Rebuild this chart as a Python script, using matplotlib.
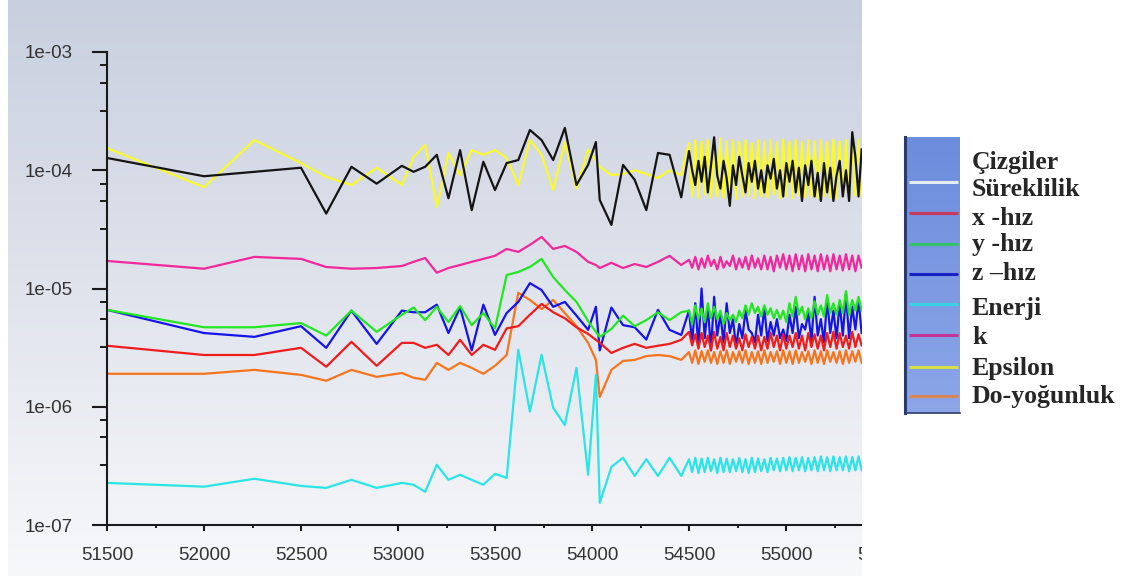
import numpy as np
import matplotlib.pyplot as plt
from matplotlib.patches import Rectangle
from matplotlib.ticker import FixedLocator, NullFormatter

W, H = 1130, 581

# iterasyon ekseni: seyrek baslangic, orta bolge, yogun salinim bolgesi
x_early = [51500, 52000, 52260, 52500, 52630, 52760, 52890, 53020]
x_mid = [53080, 53140, 53200, 53260, 53320, 53380, 53440, 53500, 53560, 53620,
         53680, 53740, 53800, 53860, 53920, 53980, 54020, 54040, 54100, 54160,
         54220, 54280, 54340, 54400, 54460]
x_dense = np.linspace(54500, 55390, 56)

# Süreklilik (siyah)
cont_early = [1.27e-4, 8.9e-5, 9.7e-5, 1.05e-4, 4.3e-5, 1.07e-4, 7.7e-5, 1.09e-4]
cont_mid = [9.7e-5, 1.07e-4, 1.35e-4, 5.8e-5, 1.48e-4, 4.6e-5, 1.18e-4, 6.8e-5,
            1.15e-4, 1.22e-4, 2.19e-4, 1.8e-4, 1.22e-4, 2.28e-4, 7.5e-5, 1.11e-4,
            1.73e-4, 5.6e-5, 3.45e-5, 1.11e-4, 8.3e-5, 4.6e-5, 1.4e-4, 1.35e-4, 5.9e-5]
cont_dense = [1.45e-4, 1.0e-4, 7.5e-5, 1.2e-4, 8.0e-5, 1.3e-4, 6.5e-5, 1.1e-4,
              1.9e-4, 9.0e-5, 7.0e-5, 1.2e-4, 8.5e-5, 5.0e-5, 1.1e-4, 7.5e-5,
              1.3e-4, 9.0e-5, 6.5e-5, 1.15e-4, 8.0e-5, 1.2e-4, 7.0e-5, 1.0e-4,
              6.5e-5, 1.1e-4, 8.5e-5, 1.25e-4, 7.0e-5, 1.0e-4, 6.0e-5, 1.15e-4,
              8.0e-5, 1.2e-4, 6.5e-5, 1.05e-4, 5.5e-5, 1.1e-4, 7.5e-5, 1.2e-4,
              6.0e-5, 9.5e-5, 5.5e-5, 1.15e-4, 6.5e-5, 1.05e-4, 5.5e-5, 9.0e-5,
              1.2e-4, 6.0e-5, 1.0e-4, 5.5e-5, 2.1e-4, 1.3e-4, 6.0e-5, 1.5e-4]

# x-hız (kırmızı)
xvel_early = [3.28e-6, 2.74e-6, 2.74e-6, 3.15e-6, 2.18e-6, 3.54e-6, 2.22e-6, 3.47e-6]
xvel_mid = [3.47e-6, 3.15e-6, 3.34e-6, 2.74e-6, 3.68e-6, 2.74e-6, 3.34e-6, 3.03e-6,
            4.6e-6, 4.8e-6, 6.0e-6, 7.4e-6, 6.3e-6, 5.6e-6, 4.7e-6, 4.13e-6,
            3.68e-6, 3.47e-6, 2.85e-6, 3.15e-6, 3.4e-6, 3.15e-6, 3.28e-6, 3.4e-6, 3.68e-6]
xvel_dense = [4.3e-6, 3.3e-6, 4.1e-6, 3.1e-6, 4.2e-6, 3.2e-6, 4.0e-6, 3.0e-6,
              4.3e-6, 3.1e-6, 3.9e-6, 3.0e-6, 4.2e-6, 3.2e-6, 4.0e-6, 3.1e-6,
              3.8e-6, 3.0e-6, 4.1e-6, 3.2e-6, 3.9e-6, 3.1e-6, 4.0e-6, 3.0e-6,
              3.9e-6, 3.1e-6, 4.2e-6, 3.2e-6, 4.0e-6, 3.0e-6, 4.1e-6, 3.1e-6,
              4.0e-6, 3.2e-6, 4.2e-6, 3.1e-6, 4.0e-6, 3.0e-6, 4.2e-6, 3.2e-6,
              4.1e-6, 3.1e-6, 4.0e-6, 3.0e-6, 4.2e-6, 3.2e-6, 4.3e-6, 3.1e-6,
              4.2e-6, 3.2e-6, 4.0e-6, 3.1e-6, 4.3e-6, 3.2e-6, 4.1e-6, 3.3e-6]

# y-hız (yeşil)
yvel_early = [6.6e-6, 4.7e-6, 4.7e-6, 5.1e-6, 4.0e-6, 6.5e-6, 4.3e-6, 6.0e-6]
yvel_mid = [6.9e-6, 5.4e-6, 7.0e-6, 5.2e-6, 7.1e-6, 4.9e-6, 6.2e-6, 4.6e-6,
            1.30e-5, 1.38e-5, 1.52e-5, 1.78e-5, 1.25e-5, 9.7e-6, 7.7e-6, 5.3e-6,
            4.3e-6, 3.9e-6, 4.55e-6, 5.9e-6, 4.8e-6, 5.4e-6, 6.3e-6, 5.4e-6, 6.3e-6]
yvel_dense = [6.5e-6, 5.0e-6, 7.2e-6, 5.5e-6, 6.8e-6, 5.2e-6, 7.5e-6, 5.6e-6,
              7.0e-6, 5.5e-6, 6.5e-6, 5.0e-6, 6.2e-6, 5.4e-6, 6.0e-6, 5.2e-6,
              6.5e-6, 5.6e-6, 7.2e-6, 6.0e-6, 7.5e-6, 6.2e-6, 7.0e-6, 5.8e-6,
              7.2e-6, 6.0e-6, 6.8e-6, 5.6e-6, 6.6e-6, 5.5e-6, 6.5e-6, 5.2e-6,
              7.5e-6, 5.8e-6, 8.5e-6, 6.0e-6, 7.0e-6, 5.5e-6, 6.8e-6, 5.6e-6,
              7.8e-6, 6.0e-6, 7.2e-6, 5.8e-6, 8.8e-6, 6.2e-6, 7.5e-6, 6.0e-6,
              8.0e-6, 6.2e-6, 9.5e-6, 6.0e-6, 8.0e-6, 6.5e-6, 8.5e-6, 6.5e-6]

# z-hız (mavi)
zvel_early = [6.6e-6, 4.2e-6, 3.9e-6, 4.8e-6, 3.15e-6, 6.5e-6, 3.4e-6, 6.5e-6]
zvel_mid = [6.3e-6, 6.3e-6, 7.3e-6, 4.2e-6, 6.9e-6, 3.0e-6, 7.3e-6, 4.05e-6,
            6.2e-6, 7.7e-6, 1.11e-5, 9.7e-6, 7.0e-6, 7.7e-6, 5.9e-6, 4.47e-6,
            7.0e-6, 3.0e-6, 6.9e-6, 4.9e-6, 4.7e-6, 3.7e-6, 6.6e-6, 4.47e-6, 4.05e-6]
zvel_dense = [6.5e-6, 3.5e-6, 7.5e-6, 3.2e-6, 1.0e-5, 3.8e-6, 7.0e-6, 3.0e-6,
              8.5e-6, 4.0e-6, 6.0e-6, 3.5e-6, 7.5e-6, 4.2e-6, 5.5e-6, 3.2e-6,
              5.0e-6, 3.8e-6, 6.5e-6, 4.5e-6, 4.2e-6, 3.5e-6, 6.0e-6, 4.0e-6,
              6.8e-6, 3.6e-6, 5.2e-6, 4.0e-6, 5.5e-6, 3.8e-6, 4.5e-6, 3.6e-6,
              6.0e-6, 4.2e-6, 7.0e-6, 3.8e-6, 5.0e-6, 4.5e-6, 6.2e-6, 3.6e-6,
              8.5e-6, 4.0e-6, 5.5e-6, 3.5e-6, 8.0e-6, 4.2e-6, 6.5e-6, 3.8e-6,
              7.5e-6, 4.0e-6, 9.0e-6, 3.8e-6, 7.0e-6, 4.5e-6, 8.0e-6, 4.2e-6]

# Enerji (camgöbeği)
energy_early = [2.27e-7, 2.11e-7, 2.46e-7, 2.14e-7, 2.06e-7, 2.41e-7, 2.06e-7, 2.27e-7]
energy_mid = [2.19e-7, 1.91e-7, 3.23e-7, 2.41e-7, 2.66e-7, 2.41e-7, 2.19e-7, 2.71e-7,
              2.5e-7, 3.03e-6, 9.1e-7, 2.75e-6, 9.8e-7, 7.0e-7, 2.13e-6, 2.66e-7,
              1.86e-6, 1.54e-7, 3.1e-7, 3.7e-7, 2.6e-7, 3.6e-7, 2.6e-7, 3.7e-7, 2.6e-7]
energy_dense = [3.6e-7, 2.8e-7, 3.7e-7, 2.75e-7, 3.65e-7, 2.8e-7, 3.7e-7, 2.85e-7,
                3.6e-7, 2.75e-7, 3.7e-7, 2.8e-7, 3.65e-7, 2.8e-7, 3.6e-7, 2.85e-7,
                3.7e-7, 2.8e-7, 3.6e-7, 2.75e-7, 3.7e-7, 2.8e-7, 3.65e-7, 2.85e-7,
                3.6e-7, 2.8e-7, 3.7e-7, 2.9e-7, 3.65e-7, 2.85e-7, 3.7e-7, 2.9e-7,
                3.75e-7, 2.85e-7, 3.7e-7, 2.9e-7, 3.75e-7, 2.85e-7, 3.7e-7, 2.9e-7,
                3.75e-7, 2.85e-7, 3.8e-7, 2.9e-7, 3.75e-7, 2.85e-7, 3.8e-7, 2.9e-7,
                3.75e-7, 2.9e-7, 3.8e-7, 2.85e-7, 3.75e-7, 2.9e-7, 3.8e-7, 2.9e-7]

# k (pembe)
k_early = [1.71e-5, 1.47e-5, 1.85e-5, 1.78e-5, 1.52e-5, 1.47e-5, 1.49e-5, 1.55e-5]
k_mid = [1.68e-5, 1.81e-5, 1.36e-5, 1.49e-5, 1.58e-5, 1.68e-5, 1.78e-5, 1.89e-5,
         2.16e-5, 2.04e-5, 2.34e-5, 2.73e-5, 2.16e-5, 2.29e-5, 2.04e-5, 1.68e-5,
         1.58e-5, 1.49e-5, 1.65e-5, 1.49e-5, 1.61e-5, 1.52e-5, 1.68e-5, 1.89e-5, 1.58e-5]
k_dense = [1.75e-5, 1.5e-5, 1.85e-5, 1.45e-5, 1.8e-5, 1.5e-5, 1.9e-5, 1.55e-5,
           1.75e-5, 1.45e-5, 1.85e-5, 1.5e-5, 1.7e-5, 1.55e-5, 1.9e-5, 1.45e-5,
           1.8e-5, 1.5e-5, 1.85e-5, 1.45e-5, 1.9e-5, 1.5e-5, 1.8e-5, 1.45e-5,
           1.9e-5, 1.45e-5, 1.85e-5, 1.4e-5, 1.9e-5, 1.5e-5, 1.95e-5, 1.45e-5,
           1.9e-5, 1.4e-5, 1.95e-5, 1.45e-5, 1.9e-5, 1.4e-5, 1.95e-5, 1.45e-5,
           1.9e-5, 1.4e-5, 1.95e-5, 1.45e-5, 1.9e-5, 1.4e-5, 1.95e-5, 1.45e-5,
           1.9e-5, 1.42e-5, 1.95e-5, 1.45e-5, 1.9e-5, 1.4e-5, 1.9e-5, 1.5e-5]

# Epsilon (sarı)
eps_early = [1.54e-4, 7.2e-5, 1.8e-4, 1.15e-4, 8.8e-5, 7.5e-5, 1.05e-4, 7.5e-5]
eps_mid = [1.29e-4, 1.64e-4, 4.9e-5, 1.4e-4, 9.1e-5, 1.48e-4, 1.35e-4, 1.48e-4,
           1.27e-4, 7.5e-5, 1.8e-4, 1.35e-4, 6.8e-5, 1.73e-4, 7.0e-5, 1.5e-4,
           1.2e-4, 1.07e-4, 9.1e-5, 9.3e-5, 1.0e-4, 9.3e-5, 8.6e-5, 1.0e-4, 9.1e-5]
eps_dense = [1.7e-4, 6.0e-5, 1.8e-4, 5.8e-5, 1.75e-4, 6.2e-5, 1.8e-4, 5.9e-5,
             1.7e-4, 6.0e-5, 1.85e-4, 5.8e-5, 1.75e-4, 6.3e-5, 1.8e-4, 5.7e-5,
             1.75e-4, 6.0e-5, 1.8e-4, 6.1e-5, 1.7e-4, 5.8e-5, 1.8e-4, 6.0e-5,
             1.75e-4, 5.9e-5, 1.8e-4, 6.2e-5, 1.72e-4, 5.8e-5, 1.82e-4, 6.0e-5,
             1.75e-4, 5.8e-5, 1.8e-4, 6.1e-5, 1.74e-4, 5.9e-5, 1.8e-4, 6.0e-5,
             1.76e-4, 5.8e-5, 1.8e-4, 6.0e-5, 1.73e-4, 5.9e-5, 1.82e-4, 5.8e-5,
             1.75e-4, 6.0e-5, 1.8e-4, 5.9e-5, 1.74e-4, 6.1e-5, 1.8e-4, 6.0e-5]

# Do-yoğunluk (turuncu)
do_early = [1.9e-6, 1.9e-6, 2.05e-6, 1.86e-6, 1.66e-6, 2.05e-6, 1.79e-6, 1.93e-6]
do_mid = [1.76e-6, 1.69e-6, 2.35e-6, 2.05e-6, 2.35e-6, 2.13e-6, 1.9e-6, 2.22e-6,
          2.74e-6, 9.2e-6, 8.0e-6, 6.7e-6, 8.0e-6, 6.2e-6, 4.8e-6, 3.47e-6,
          2.49e-6, 1.21e-6, 2.05e-6, 2.44e-6, 2.49e-6, 2.68e-6, 2.74e-6, 2.68e-6, 2.49e-6]
do_dense = [2.9e-6, 2.35e-6, 3.0e-6, 2.3e-6, 2.95e-6, 2.4e-6, 3.0e-6, 2.35e-6,
            2.9e-6, 2.3e-6, 2.95e-6, 2.35e-6, 3.0e-6, 2.3e-6, 2.9e-6, 2.4e-6,
            2.95e-6, 2.35e-6, 3.0e-6, 2.3e-6, 2.9e-6, 2.35e-6, 2.95e-6, 2.3e-6,
            3.0e-6, 2.35e-6, 2.9e-6, 2.4e-6, 2.95e-6, 2.3e-6, 3.0e-6, 2.35e-6,
            2.95e-6, 2.3e-6, 3.0e-6, 2.35e-6, 2.9e-6, 2.4e-6, 2.95e-6, 2.3e-6,
            3.0e-6, 2.35e-6, 2.95e-6, 2.3e-6, 3.0e-6, 2.4e-6, 2.9e-6, 2.35e-6,
            2.95e-6, 2.3e-6, 3.0e-6, 2.35e-6, 2.95e-6, 2.4e-6, 3.0e-6, 2.35e-6]

x_ticks = [51500, 52000, 52500, 53000, 53500, 54000, 54500, 55000, 55500]
x_tick_labels = ['51500', '52000', '52500', '53000', '53500', '54000', '54500', '55000', '55500']
y_ticks = [1e-7, 1e-6, 1e-5, 1e-4, 1e-3]
y_tick_labels = ['1e-07', '1e-06', '1e-05', '1e-04', '1e-03']
minor_factors = [0.77, 0.55, 0.32]

legend_labels = ['Çizgiler', 'Süreklilik', 'x -hız', 'y -hız', 'z –hız',
                 'Enerji', 'k', 'Epsilon', 'Do-yoğunluk']
legend_colors = ['#e6ecf8', '#c83a5c', '#34c266', '#1a22c0', '#3ad2e2',
                 '#c23494', '#d6e046', '#d98554']

x_all = x_early + x_mid + list(x_dense)
# çizim sırası: son seri önce, süreklilik en üstte
series = [
    (do_early + do_mid + do_dense, '#f8741c'),
    (eps_early + eps_mid + eps_dense, '#f9f92c'),
    (k_early + k_mid + k_dense, '#f0289c'),
    (energy_early + energy_mid + energy_dense, '#2ae4e6'),
    (zvel_early + zvel_mid + zvel_dense, '#1414e6'),
    (yvel_early + yvel_mid + yvel_dense, '#22e622'),
    (xvel_early + xvel_mid + xvel_dense, '#f01c1c'),
    (cont_early + cont_mid + cont_dense, '#141414'),
]

fig = plt.figure(figsize=(W / 100, H / 100), dpi=100, facecolor='white')

# arka plan gradyanı (ekran görüntüsü paneli)
bg = fig.add_axes([8 / W, (H - 576) / H, (862 - 8) / W, 576 / H])
top = np.array([200, 207, 222]) / 255
bot = np.array([247, 248, 250]) / 255
tt = np.linspace(0, 1, 256)[:, None]
grad = (top[None, :] * (1 - tt) + bot[None, :] * tt)[:, None, :]
bg.imshow(grad, aspect='auto', extent=[0, 1, 0, 1])
bg.axis('off')
bg.set_zorder(-1)

ax = fig.add_axes([107 / W, (H - 525) / H, (883 - 107) / W, (525 - 52) / H])
ax.patch.set_alpha(0)
for vals, col in series:
    ax.plot(x_all, vals, color=col, lw=1.6, solid_joinstyle='round')

ax.set_yscale('log')
ax.set_xlim(51500, 55500)
ax.set_ylim(1e-7, 1e-3)
ax.set_xticks(x_ticks)
ax.set_xticklabels(x_tick_labels)
ax.xaxis.set_minor_locator(FixedLocator([t + 250 for t in x_ticks[:-1]]))
ax.set_yticks(y_ticks)
ax.set_yticklabels(y_tick_labels)
ax.yaxis.set_minor_locator(FixedLocator([d * f for d in y_ticks[1:] for f in minor_factors]))
ax.yaxis.set_minor_formatter(NullFormatter())

for s in ['top', 'right']:
    ax.spines[s].set_visible(False)
for s in ['left', 'bottom']:
    ax.spines[s].set_color('#1a1a1a')
    ax.spines[s].set_linewidth(1.5)

ax.tick_params(axis='y', which='major', length=11, width=1.5, color='#1a1a1a', pad=13.5,
               labelsize=13.5, labelcolor='#333333')
ax.tick_params(axis='y', which='minor', length=5, width=1.4, color='#1a1a1a')
ax.tick_params(axis='x', which='major', length=4.5, width=1.5, color='#1a1a1a', pad=11,
               labelsize=13.5, labelcolor='#333333')
ax.tick_params(axis='x', which='minor', length=2.5, width=1.4, color='#1a1a1a')
for lab in ax.get_xticklabels() + ax.get_yticklabels():
    lab.set_family('Liberation Sans')

# ekran görüntüsünün sağ kenarı
fig.add_artist(Rectangle((862 / W, 0), 1 - 862 / W, 1, transform=fig.transFigure,
                         facecolor='white', edgecolor='none', zorder=3))

# lejant kutusu
lax = fig.add_axes([905 / W, (H - 413) / H, 55 / W, 276 / H])
lax.set_zorder(5)
ltop = np.array([108, 140, 220]) / 255
lbot = np.array([140, 166, 232]) / 255
lgrad = (ltop[None, :] * (1 - tt) + lbot[None, :] * tt)[:, None, :]
lax.imshow(lgrad, aspect='auto', extent=[0, 1, 0, 1])
lax.set_xlim(0, 1)
lax.set_ylim(0, 1)
lax.set_xticks([])
lax.set_yticks([])
for s in ['top', 'right']:
    lax.spines[s].set_visible(False)
lax.spines['left'].set_color('#2a3a6c')
lax.spines['left'].set_linewidth(2.2)
lax.spines['bottom'].set_color('#2a3a6c')
lax.spines['bottom'].set_linewidth(1.2)

sample_y = [182, 213, 244, 274, 304, 335, 367, 396]
for py, col in zip(sample_y, legend_colors):
    yy = (413 - py) / 276
    lax.plot([0.08, 0.97], [yy, yy], color=col, lw=2.2, solid_capstyle='butt')

label_y = [162, 189, 218, 245, 273, 308, 338, 368, 397]
for py, txt in zip(label_y, legend_labels):
    fig.text(972 / W, 1 - py / H, txt, ha='left', va='center', fontsize=18.5,
             family='Liberation Serif', weight='bold', color='#262626', zorder=6)

fig.savefig('out.png', dpi=100, facecolor='white')
